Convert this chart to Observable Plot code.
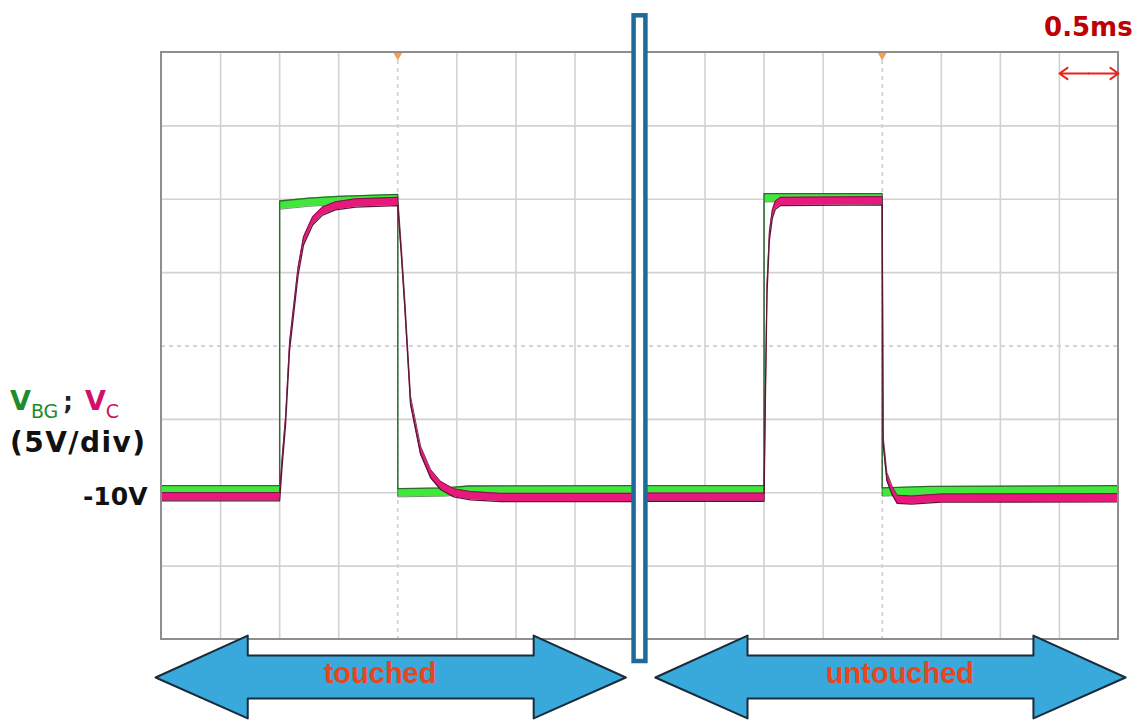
<!DOCTYPE html>
<html>
<head>
<meta charset="utf-8">
<script src="https://cdn.jsdelivr.net/npm/d3@7"></script>
<script src="https://cdn.jsdelivr.net/npm/@observablehq/plot@0.6"></script>
<style>
  html, body { margin: 0; padding: 0; background: #ffffff; }
  #chart { width: 1140px; height: 722px; }
</style>
</head>
<body>
<div id="chart"></div>
<script>
// ---------------- data (time in ms, voltage in V) ----------------
const panels = ["touched", "untouched"];
const panelOffset = [0, 4.1];            // start of each scope screen on the shared time axis (ms)
const timeDivs = [0, 0.5, 1, 1.5, 2, 2.5, 3, 3.5, 4];   // 0.5 ms / div
const voltDivs = [-20, -15, -10, -5, 0, 5, 10, 15, 20]; // 5 V / div
const voltTickLabels = [-10];

// V_BG (green) – touched screen
const vbgTouched = [
  [0, -9.8], [1.0, -9.8], [1.0, 9.6], [1.25, 9.8], [1.5, 9.92], [2.0, 10.05],
  [2.0, -10.0], [2.4, -9.95], [2.6, -9.82], [4.0, -9.8]
];
// V_C (magenta) – touched screen
const vcTouched = [
  [0, -10.27], [1.0, -10.27], [1.02, -8.0], [1.05, -5.1], [1.084, 0.0], [1.155, 5.05],
  [1.202, 7.17], [1.279, 8.53], [1.363, 9.2], [1.473, 9.55], [1.643, 9.75], [2.0, 9.85],
  [2.03, 6.5], [2.058, 3.1], [2.108, -3.7], [2.193, -7.1], [2.278, -8.7], [2.362, -9.5],
  [2.473, -10.0], [2.616, -10.2], [2.87, -10.32], [4.0, -10.32]
];
// V_BG (green) – untouched screen
const vbgUntouched = [
  [0, -9.8], [1.0, -9.8], [1.0, 10.1], [2.0, 10.1], [2.0, -9.95], [2.4, -9.85], [4.0, -9.8]
];
// V_C (magenta) – untouched screen
const vcUntouched = [
  [0, -10.3], [1.0, -10.3], [1.01, -4.0], [1.025, 3.9], [1.045, 7.5], [1.07, 9.0],
  [1.095, 9.6], [1.14, 9.85], [2.0, 9.9], [2.008, -6.4], [2.04, -8.9], [2.085, -9.85],
  [2.127, -10.45], [2.25, -10.5], [2.5, -10.36], [4.0, -10.34]
];

// annotation arrows below the screens (local ms of each screen)
const arrowLabels = ["touched", "untouched"];
const arrowFrom = [-0.05, 0.08];
const arrowTo = [3.93, 4.06];
const arrowTextAt = [1.85, 2.15];
const scaleBarLabel = "0.5ms";

// ---------------- styling ----------------
const GREEN = "#3fe83a", GREEN_DARK = "#2f6a2c";
const MAGENTA = "#e8187c", MAGENTA_DARK = "#5c1636";
const GRID = "#d2d2d2", FRAME = "#8e8e8e";
const hBG = 0.28, hC = 0.28;

// ---------------- build tables ----------------
const traces = [
  {panel: 0, series: "VBG", pts: vbgTouched},
  {panel: 1, series: "VBG", pts: vbgUntouched},
  {panel: 0, series: "VC", pts: vcTouched},
  {panel: 1, series: "VC", pts: vcUntouched}
];
const rows = traces.flatMap(({panel, series, pts}) =>
  pts.map(([t, v]) => ({series, key: series + panel, t: t + panelOffset[panel], v})));
const bg = rows.filter(d => d.series === "VBG");
const vc = rows.filter(d => d.series === "VC");

const gridX = panelOffset.flatMap(o => timeDivs.filter(d => d > 0 && d < 4 && d !== 2).map(d => d + o));
const centerX = panelOffset.map(o => o + 2);
const gridY = voltDivs.filter(v => v > -20 && v < 20 && v !== 0);
const frames = panelOffset.map(o => ({x1: o, x2: o + 4}));
const divider = [{x1: panelOffset[0] + 4, x2: panelOffset[1], y1: -21.5, y2: 22.5}];

// arrow polygons (y in volts below the screen)
const yTip = -22.59, yHeadTop = -19.73, yHeadBot = -25.38, yShaftTop = -21.09, yShaftBot = -24.02, head = 0.78;
const arrowPts = arrowLabels.flatMap((label, i) => {
  const a = arrowFrom[i] + panelOffset[i], b = arrowTo[i] + panelOffset[i];
  return [
    [a, yTip], [a + head, yHeadTop], [a + head, yShaftTop], [b - head, yShaftTop], [b - head, yHeadTop],
    [b, yTip], [b - head, yHeadBot], [b - head, yShaftBot], [a + head, yShaftBot], [a + head, yHeadBot]
  ].map(([x, y]) => ({label, x, y}));
});
const arrowText = arrowLabels.map((label, i) => ({label, x: arrowTextAt[i] + panelOffset[i], y: -22.35}));

// scale bar: one time division, drawn as two arrows from its middle
const sbA = panelOffset[1] + timeDivs[7], sbB = panelOffset[1] + timeDivs[8], sbY = 18.57;
const scaleBar = [{x1: (sbA + sbB) / 2, x2: sbA}, {x1: (sbA + sbB) / 2, x2: sbB}];

const plot = Plot.plot({
  width: 1140,
  height: 722,
  marginLeft: 161,
  marginRight: 22,
  marginTop: 52,
  marginBottom: 83,
  style: {background: "#ffffff", fontFamily: "DejaVu Sans", overflow: "visible"},
  x: {domain: [0, panelOffset[1] + 4], axis: null},
  y: {domain: [-20, 20], axis: null},
  marks: [
    // grid
    Plot.ruleX(gridX, {stroke: GRID, strokeWidth: 1.6}),
    Plot.ruleX(centerX, {stroke: "#c6c8d0", strokeWidth: 1.4, strokeDasharray: "4,4"}),
    Plot.ruleY(gridY, {stroke: GRID, strokeWidth: 1.6}),
    Plot.ruleY([0], {stroke: "#c6c8d0", strokeWidth: 1.4, strokeDasharray: "4,4"}),
    // V_BG band
    Plot.areaY(bg, {x: "t", y1: d => d.v - hBG, y2: d => d.v + hBG, z: "key", fill: GREEN}),
    Plot.line(bg, {x: "t", y: d => d.v + hBG, z: "key", stroke: GREEN_DARK, strokeWidth: 1.3}),
    Plot.line(bg, {x: "t", y: d => d.v - hBG, z: "key", stroke: GREEN_DARK, strokeWidth: 1.0, strokeOpacity: 0.7}),
    // V_C band
    Plot.areaY(vc, {x: "t", y1: d => d.v - hC, y2: d => d.v + hC, z: "key", fill: MAGENTA}),
    Plot.line(vc, {x: "t", y: d => d.v + hC, z: "key", stroke: MAGENTA_DARK, strokeWidth: 1.0, strokeOpacity: 0.8}),
    Plot.line(vc, {x: "t", y: d => d.v - hC, z: "key", stroke: MAGENTA_DARK, strokeWidth: 1.3}),
    // screen frames
    Plot.rect(frames, {x1: "x1", x2: "x2", fill: "none", stroke: FRAME, strokeWidth: 2}),
    Plot.dot(centerX, {x: d => d, y: () => 20, symbol: "triangle", rotate: 180, r: 3.2, fill: "#f2a24c", dy: 3}),
    // divider
    Plot.rect(divider, {x1: "x1", x2: "x2", y1: "y1", y2: "y2", fill: "#ffffff", stroke: "#1d6a9d", strokeWidth: 4.5}),
    // arrows
    Plot.line(arrowPts, {x: "x", y: "y", z: "label", fill: "#38a9da", stroke: "#1a2b3c", strokeWidth: 2, curve: "linear-closed"}),
    Plot.text(arrowText, {x: "x", y: "y", text: "label", fill: "#e8461e", fontSize: 29, fontWeight: "bold", fontFamily: "Liberation Sans"}),
    // scale bar
    Plot.arrow(scaleBar, {x1: "x1", x2: "x2", y1: () => sbY, y2: () => sbY, stroke: "#e8231e", strokeWidth: 2, headLength: 11, headAngle: 70}),
    Plot.text([scaleBarLabel], {x: () => panelOffset[1] + 4.12, y: () => 21.7, text: d => d, textAnchor: "end", fill: "#c00000", fontSize: 26, fontWeight: "bold"}),
    // y tick label
    Plot.text(voltTickLabels, {frameAnchor: "left", y: d => d, text: d => `${d}V`, textAnchor: "end", dx: -14, dy: 4, fill: "#111111", fontSize: 25, fontWeight: "bold"})
  ]
});

document.getElementById("chart").append(plot);

// y-axis label: V_BG ; V_C (5V/div)
const svg = d3.select(plot);
const ys = plot.scale("y");
const y0 = ys.apply(-10);
const lab = svg.append("text").attr("x", 10).attr("y", y0 - 82)
  .attr("text-anchor", "start").attr("font-family", "DejaVu Sans");
lab.append("tspan").attr("font-size", 27).attr("font-weight", "bold").attr("fill", "#1e8c2a").text("V");
lab.append("tspan").attr("font-size", 19).attr("fill", "#1e8c2a").attr("dy", 8).text("BG");
lab.append("tspan").attr("font-size", 24).attr("font-weight", "bold").attr("fill", "#222").attr("dy", -8).attr("dx", 5).text(";");
lab.append("tspan").attr("font-size", 27).attr("font-weight", "bold").attr("fill", "#d0106a").attr("dx", 12).text("V");
lab.append("tspan").attr("font-size", 19).attr("fill", "#d0106a").attr("dy", 8).text("C");
svg.append("text").attr("x", 10).attr("y", y0 - 40).attr("text-anchor", "start").attr("font-family", "DejaVu Sans")
  .attr("font-size", 28).attr("font-weight", "bold").attr("fill", "#111")
  .attr("textLength", 135).attr("lengthAdjust", "spacing").text("(5V/div)");
</script>
</body>
</html>
